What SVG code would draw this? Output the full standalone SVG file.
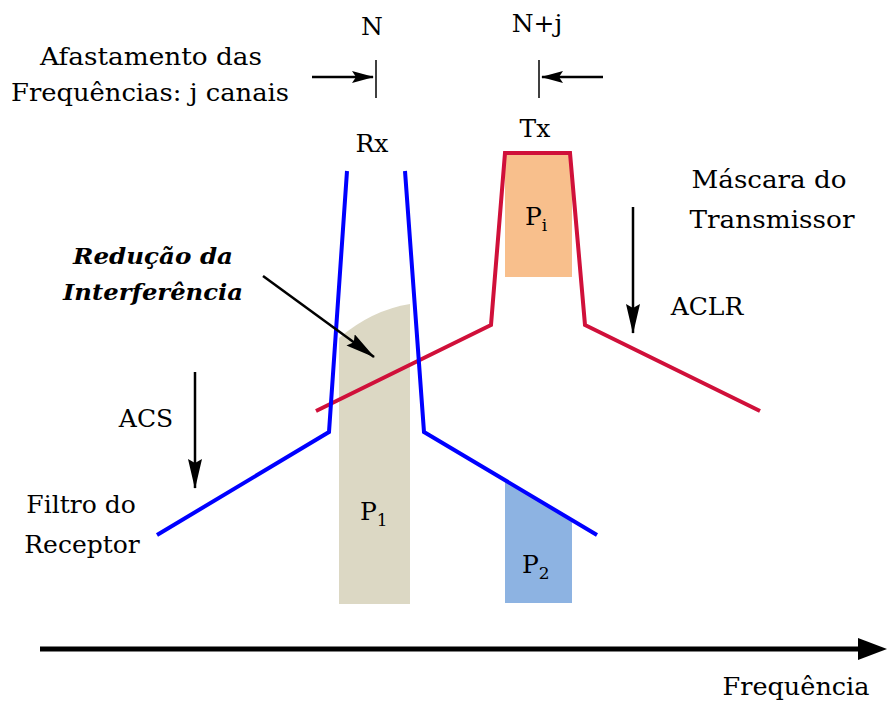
<svg xmlns="http://www.w3.org/2000/svg" width="888" height="706" viewBox="0 0 888 706">
<style>
.t{font-family:"DejaVu Serif","Liberation Serif",serif;font-size:25px;fill:#000}
.bi{font-family:"DejaVu Serif","Liberation Serif",serif;font-size:23px;font-weight:bold;font-style:italic;fill:#000}
.sub{font-size:17px}
.blue{fill:none;stroke:#0000ff;stroke-width:4;stroke-linejoin:miter}
.red{fill:none;stroke:#d0103a;stroke-width:4;stroke-linejoin:miter}
.arr{stroke:#000;stroke-width:2.5;fill:none}
.tick{stroke:#000;stroke-width:1.5}
</style>
<defs>
<marker id="ah" viewBox="0 0 22 12" refX="21" refY="6" markerWidth="22" markerHeight="12" orient="auto" markerUnits="userSpaceOnUse">
<path d="M0,0 L22,6 L0,12 L4,6 z" fill="#000"/>
</marker>
<marker id="ahl" viewBox="0 0 30 14" refX="29" refY="7" markerWidth="30" markerHeight="14" orient="auto" markerUnits="userSpaceOnUse">
<path d="M0,0 L30,7 L0,14 L4,7 z" fill="#000"/>
</marker>
</defs>
<rect width="888" height="706" fill="#fff"/>

<g id="regions">
<path d="M339,338 Q372,310 410,304 L410,604 L339,604 Z" fill="#dcd8c4"/>
<path d="M505,480 L572,520 L572,603 L505,603 Z" fill="#8db3e2"/>
<rect x="505" y="154" width="67" height="123" fill="#f8bf8c"/>
</g>

<g id="tx-mask">
<polyline class="red" points="316,411 491,325 505,153 570,153 585,325 760,411"/>
</g>
<g id="rx-filter">
<polyline class="blue" points="347,171 329,432 157,535"/>
<polyline class="blue" points="405,171 424,432 597,535"/>
</g>

<g id="connectors">
<line class="arr" x1="312" y1="77" x2="373" y2="77" marker-end="url(#ah)"/>
<line class="tick" x1="376" y1="60" x2="376" y2="98"/>
<line class="arr" x1="603" y1="77" x2="542" y2="77" marker-end="url(#ah)"/>
<line class="tick" x1="539" y1="60" x2="539" y2="98"/>
<line class="arr" x1="263" y1="276" x2="374" y2="357" stroke-width="2" marker-end="url(#ahl)"/>
<line class="arr" x1="195" y1="372" x2="195" y2="488" marker-end="url(#ahl)"/>
<line class="arr" x1="633" y1="207" x2="633" y2="333" marker-end="url(#ahl)"/>
<line x1="40" y1="649" x2="860" y2="649" stroke="#000" stroke-width="5"/>
<path d="M858,638 L887,649 L858,660 Z" fill="#000"/>
</g>

<g id="labels">
<text class="t" x="151" y="65" text-anchor="middle" textLength="222" lengthAdjust="spacingAndGlyphs">Afastamento das</text>
<text class="t" x="150" y="101" text-anchor="middle" textLength="278" lengthAdjust="spacingAndGlyphs">Frequências: j canais</text>
<text class="t" x="372" y="35" text-anchor="middle">N</text>
<text class="t" x="537" y="32" text-anchor="middle">N+j</text>
<text class="t" x="372" y="152" text-anchor="middle">Rx</text>
<text class="t" x="535" y="137" text-anchor="middle">Tx</text>
<text class="t" x="769" y="188" text-anchor="middle" textLength="155" lengthAdjust="spacingAndGlyphs">Máscara do</text>
<text class="t" x="772" y="228" text-anchor="middle" textLength="165" lengthAdjust="spacingAndGlyphs">Transmissor</text>
<text class="t" x="707" y="315" text-anchor="middle">ACLR</text>
<text class="t" x="146" y="427" text-anchor="middle">ACS</text>
<text class="t" x="81" y="513" text-anchor="middle">Filtro do</text>
<text class="t" x="82" y="553" text-anchor="middle">Receptor</text>
<text class="bi" x="153" y="264" text-anchor="middle" textLength="160" lengthAdjust="spacingAndGlyphs">Redução da</text>
<text class="bi" x="153" y="300" text-anchor="middle" textLength="180" lengthAdjust="spacingAndGlyphs">Interferência</text>
<text class="t" x="525" y="225">P<tspan class="sub" dy="6">i</tspan></text>
<text class="t" x="360" y="520">P<tspan class="sub" dy="6">1</tspan></text>
<text class="t" x="522" y="573">P<tspan class="sub" dy="6">2</tspan></text>
<text class="t" x="796" y="695" text-anchor="middle" textLength="147" lengthAdjust="spacingAndGlyphs">Frequência</text>
</g>
</svg>
